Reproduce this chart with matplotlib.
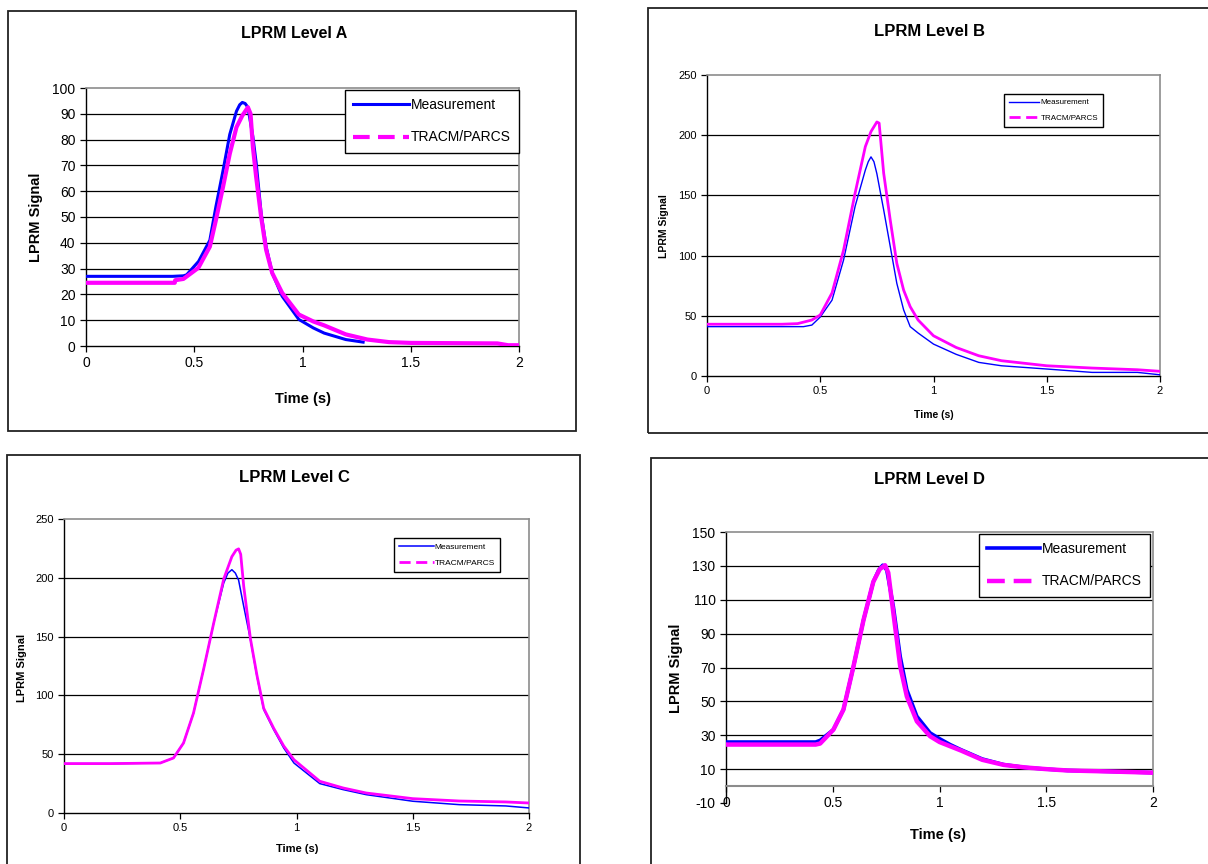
import matplotlib.pyplot as plt
from matplotlib.lines import Line2D
from matplotlib.patches import Rectangle

plt.rcParams['font.family'] = ['Liberation Sans', 'DejaVu Sans']
plt.rcParams['axes.unicode_minus'] = False

W, H = 1208, 864
BLUE = '#0000ff'
MAGENTA = '#ff00ff'
LABELS = ['Measurement', 'TRACM/PARCS']

# --- LPRM Level A ---
a_meas_t = [0, 0.2, 0.4, 0.45, 0.465, 0.52, 0.572, 0.60, 0.633, 0.664, 0.695, 0.71, 0.722,
            0.735, 0.748, 0.771, 0.786, 0.809, 0.832, 0.86, 0.906, 0.983, 1.05, 1.1, 1.2, 1.28]
a_meas_v = [27, 27, 27, 27.2, 27.6, 32.8, 41, 54, 68, 82, 91, 93.5, 94.4,
            94, 92.5, 81, 71, 51.4, 38.5, 28.3, 19.3, 10.3, 7, 5, 2.5, 1.5]
a_calc_t = [0, 0.2, 0.41, 0.412, 0.45, 0.519, 0.572, 0.60, 0.633, 0.664, 0.695, 0.722,
            0.748, 0.76, 0.771, 0.786, 0.809, 0.832, 0.86, 0.906, 0.983, 1.05, 1.1,
            1.2, 1.3, 1.4, 1.5, 1.7, 1.9, 1.95, 2.0]
a_calc_v = [24.5, 24.5, 24.5, 25.5, 26, 30.3, 38.5, 48.8, 61.7, 74.5, 84.8, 89.3,
            92.5, 90, 77, 65.5, 50, 37.3, 28.3, 20.6, 12.2, 9.5, 8,
            4.5, 2.5, 1.5, 1.2, 1.1, 1.0, 0.3, 0.3]

# --- LPRM Level B ---
b_meas_t = [0, 0.2, 0.426, 0.463, 0.5, 0.552, 0.603, 0.654, 0.699, 0.712, 0.724, 0.737, 0.75,
            0.78, 0.809, 0.838, 0.868, 0.897, 0.932, 1.0, 1.1, 1.2, 1.3, 1.5, 1.7, 1.9, 2.0]
b_meas_v = [41, 41, 41, 42.3, 49, 63, 96.4, 141, 171, 178, 182, 178, 168,
            138, 107.6, 77, 55, 41, 35.7, 26.5, 18, 11.3, 8.5, 5.8, 3, 3, 1]
b_calc_t = [0, 0.33, 0.4, 0.463, 0.5, 0.552, 0.603, 0.654, 0.699, 0.724, 0.75, 0.76,
            0.78, 0.809, 0.838, 0.868, 0.897, 0.932, 1.0, 1.1, 1.2, 1.3, 1.5, 1.7, 1.9, 2.0]
b_calc_v = [43, 43, 43.5, 46.5, 50.7, 69, 104.6, 152, 190.5, 203, 211, 210,
            168.5, 129.5, 93.6, 71.4, 57.6, 46.5, 33.4, 23.7, 16.8, 12.7, 8.5, 6.6, 5.2, 3.9]

# --- LPRM Level C ---
c_meas_t = [0, 0.2, 0.414, 0.471, 0.514, 0.557, 0.6, 0.644, 0.687, 0.705, 0.722, 0.737, 0.751,
            0.773, 0.802, 0.83, 0.859, 0.902, 0.945, 0.989, 1.1, 1.2, 1.3, 1.5, 1.7, 1.9, 2.0]
c_meas_v = [42, 42, 42.5, 46.8, 59.5, 85, 121.9, 161.6, 195.6, 204, 206.9, 204, 198,
            175.7, 147.4, 116.2, 87.9, 70.8, 55.3, 42.5, 25, 19.9, 15.6, 10, 7.1, 6, 4.3]
c_calc_t = [0, 0.2, 0.414, 0.471, 0.514, 0.557, 0.6, 0.644, 0.687, 0.722, 0.74, 0.751, 0.76,
            0.773, 0.802, 0.83, 0.859, 0.902, 0.945, 0.989, 1.1, 1.2, 1.3, 1.5, 1.7, 1.9, 2.0]
c_calc_v = [42, 42, 42.5, 46.8, 59.5, 85, 121.9, 161.6, 199, 218, 223.5, 224.6, 220,
            192.7, 148, 117, 89, 72, 57, 45.3, 27, 21.3, 17, 12.2, 10.2, 9.4, 8.5]

# --- LPRM Level D ---
d_meas_t = [0, 0.2, 0.42, 0.441, 0.503, 0.55, 0.597, 0.644, 0.69, 0.715, 0.734, 0.753, 0.784,
            0.816, 0.847, 0.894, 0.956, 1.0, 1.05, 1.1, 1.2, 1.3, 1.4, 1.5, 1.6, 1.8, 2.0]
d_meas_v = [26, 26, 26, 27, 33.3, 45.1, 70.6, 98, 120.6, 127.5, 130.4, 127.5, 105.9,
            76.5, 56.9, 41.2, 31.4, 28, 24.5, 21.5, 16, 12.7, 11, 10, 9.2, 8.6, 7.9]
d_calc_t = [0, 0.2, 0.42, 0.441, 0.503, 0.55, 0.597, 0.644, 0.69, 0.72, 0.745, 0.76, 0.784,
            0.816, 0.847, 0.894, 0.956, 1.0, 1.05, 1.1, 1.2, 1.3, 1.4, 1.5, 1.6, 1.8, 2.0]
d_calc_v = [24.5, 24.5, 24.5, 25.1, 33.3, 45.1, 70.6, 98, 120.6, 128, 130.4, 126, 102,
            70.6, 52.9, 38.2, 29.4, 26, 23.5, 21, 15.5, 12.5, 11, 10, 9.2, 8.6, 7.9]

x_ticks = [0, 0.5, 1, 1.5, 2]
x_tick_labels = ['0', '0.5', '1', '1.5', '2']


def fx(x):
    return x / W


def fy(y):
    return 1 - y / H


def plot_panel(fig, cfg):
    x0, y0, x1, y1 = cfg['frame']
    fig.add_artist(Rectangle((fx(x0), fy(y1)), fx(x1 - x0), (y1 - y0) / H,
                             transform=fig.transFigure, fill=False,
                             edgecolor='#222222', lw=1.3))
    l, t, r, b = cfg['axes']
    ax = fig.add_axes([fx(l), fy(b), fx(r - l), (b - t) / H])

    ylo, yhi = cfg['ylim']
    for lev in cfg['yticks']:
        if ylo < lev < yhi and lev != 0:
            ax.axhline(lev, color='black', lw=0.9, zorder=1)

    ax.plot(cfg['meas'][0], cfg['meas'][1], color=BLUE, lw=cfg['lw'][0], zorder=3)
    ax.plot(cfg['calc'][0], cfg['calc'][1], color=MAGENTA, lw=cfg['lw'][1], zorder=4)

    ax.set_xlim(0, 2)
    ax.set_ylim(ylo, yhi)
    ax.set_xticks(x_ticks)
    ax.set_xticklabels(x_tick_labels)
    ax.set_yticks(cfg['yticks'])
    ax.tick_params(labelsize=cfg['fs_tick'], direction='out', length=4,
                   width=0.9, colors='black')
    for side in ('top', 'right'):
        ax.spines[side].set_color('#8c8c8c')
        ax.spines[side].set_linewidth(1.2)
    ax.spines['left'].set_linewidth(1.0)
    ax.spines['bottom'].set_linewidth(1.0)
    if ylo < 0:
        ax.spines['bottom'].set_position(('data', 0))
        ax.spines['bottom'].set_color('#8c8c8c')
        ax.spines['bottom'].set_linewidth(1.5)
        ax.spines['right'].set_bounds(0, yhi)

    handles = [Line2D([], [], color=BLUE, lw=cfg['lw'][0]),
               Line2D([], [], color=MAGENTA, lw=cfg['lw'][1], ls=(0, (4, 2)))]
    leg = ax.legend(handles, LABELS, loc='upper right',
                    bbox_to_anchor=(fx(cfg['leg'][0]), fy(cfg['leg'][1])),
                    bbox_transform=fig.transFigure, fontsize=cfg['fs_leg'],
                    frameon=True, fancybox=False, framealpha=1, edgecolor='black',
                    handlelength=cfg['handlelen'], labelspacing=cfg['spacing'],
                    handletextpad=0.15, borderaxespad=0, borderpad=0.6)
    leg.get_frame().set_linewidth(1.0)

    fig.text(fx(cfg['title_xy'][0]), fy(cfg['title_xy'][1]), cfg['title'],
             ha='center', va='center', fontweight='bold', fontsize=cfg['fs_title'])
    fig.text(fx(cfg['xlab_xy'][0]), fy(cfg['xlab_xy'][1]), 'Time (s)',
             ha='center', va='center', fontweight='bold', fontsize=cfg['fs_lab'])
    fig.text(fx(cfg['ylab_xy'][0]), fy(cfg['ylab_xy'][1]), 'LPRM Signal',
             ha='center', va='center', fontweight='bold', fontsize=cfg['fs_lab'],
             rotation=90)
    return ax


panels = [
    dict(title='LPRM Level A', frame=(8, 11, 576, 431), axes=(86, 88, 519, 346),
         meas=(a_meas_t, a_meas_v), calc=(a_calc_t, a_calc_v),
         ylim=(0, 100), yticks=list(range(0, 101, 10)), lw=(2.2, 3.0),
         fs_tick=10, fs_lab=10.5, fs_title=11.5, fs_leg=10, leg=(519, 90),
         handlelength=None, handlelen=4.0, spacing=1.3, title_xy=(294, 34),
         xlab_xy=(303, 399), ylab_xy=(36, 217)),
    dict(title='LPRM Level B', frame=(648, 8, 1216, 433), axes=(707, 75, 1160, 376),
         meas=(b_meas_t, b_meas_v), calc=(b_calc_t, b_calc_v),
         ylim=(0, 250), yticks=list(range(0, 251, 50)), lw=(1.0, 2.0),
         fs_tick=8, fs_lab=7.5, fs_title=12, fs_leg=5.8, leg=(1103, 94),
         handlelen=3.8, spacing=1.0, title_xy=(930, 32), xlab_xy=(934, 415),
         ylab_xy=(664, 226)),
    dict(title='LPRM Level C', frame=(7, 455, 580, 872), axes=(64, 519, 529, 813),
         meas=(c_meas_t, c_meas_v), calc=(c_calc_t, c_calc_v),
         ylim=(0, 250), yticks=list(range(0, 251, 50)), lw=(1.1, 2.0),
         fs_tick=8, fs_lab=8, fs_title=12, fs_leg=6, leg=(500, 538),
         handlelen=4.2, spacing=1.0, title_xy=(294, 478), xlab_xy=(297, 849),
         ylab_xy=(22, 668)),
    dict(title='LPRM Level D', frame=(651, 458, 1216, 872), axes=(726, 532, 1153, 803),
         meas=(d_meas_t, d_meas_v), calc=(d_calc_t, d_calc_v),
         ylim=(-10, 150), yticks=list(range(-10, 151, 20)), lw=(2.6, 3.2),
         fs_tick=10, fs_lab=10.5, fs_title=12, fs_leg=10, leg=(1150, 534),
         handlelen=3.8, spacing=1.3, title_xy=(930, 480), xlab_xy=(938, 835),
         ylab_xy=(676, 668)),
]

fig = plt.figure(figsize=(W / 100, H / 100), dpi=100)
for cfg in panels:
    plot_panel(fig, cfg)

fig.savefig('out.png', dpi=100)
